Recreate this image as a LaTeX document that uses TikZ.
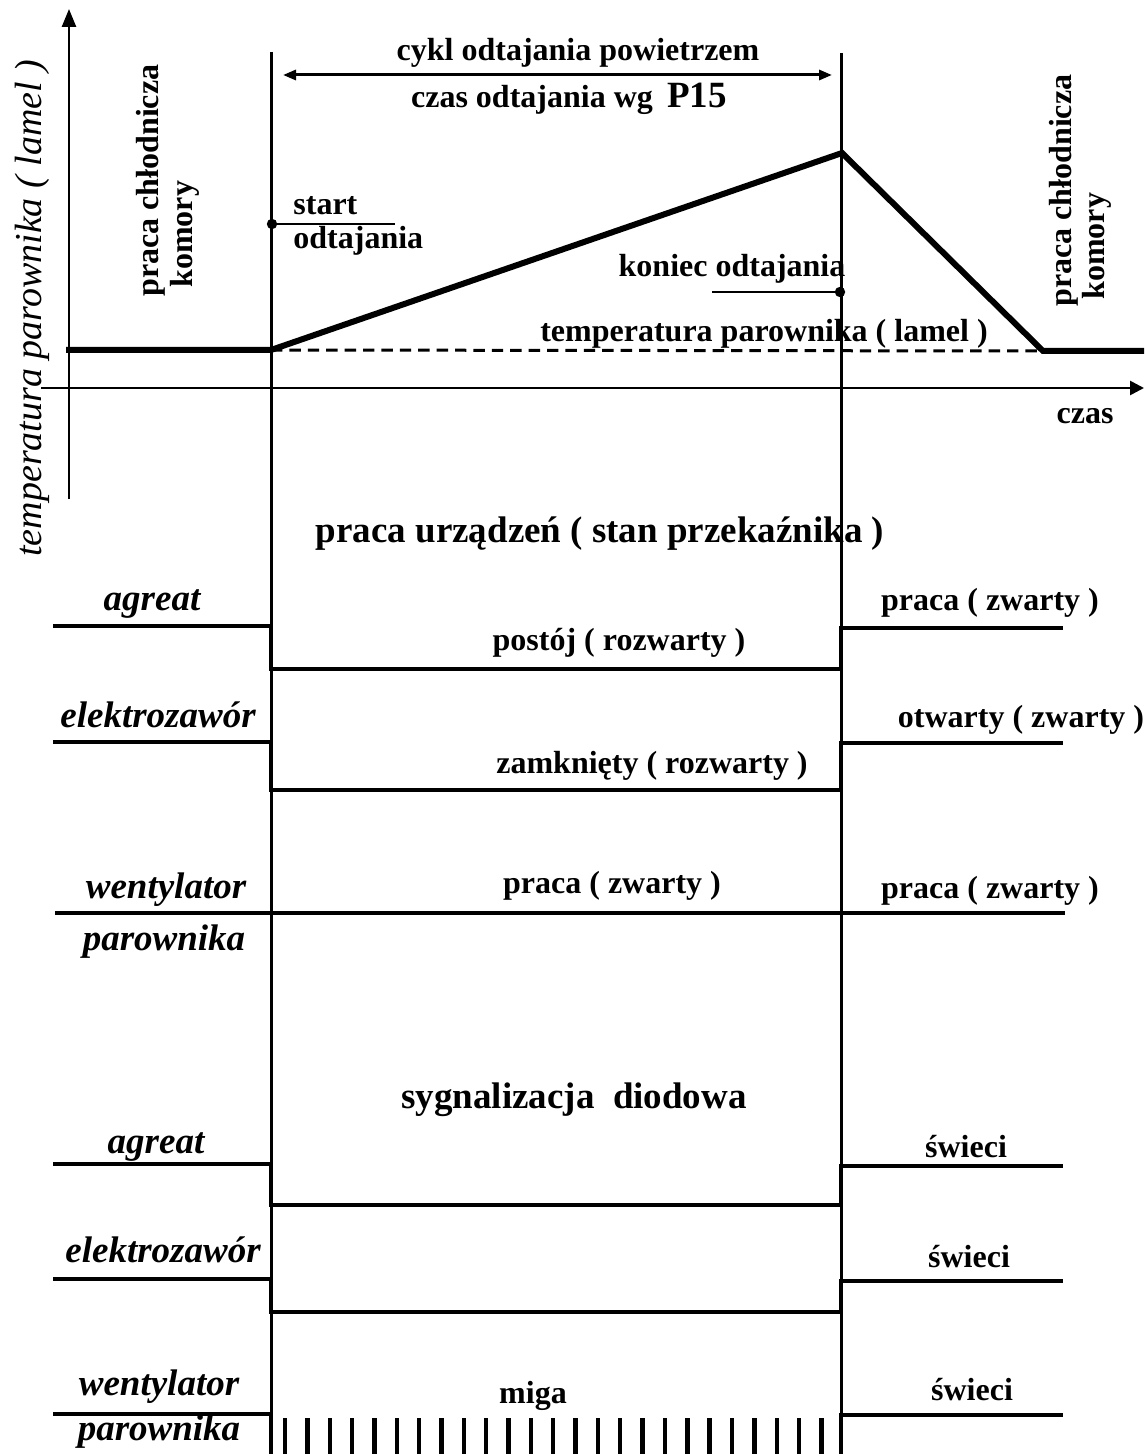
\documentclass[tikz,border=0pt]{standalone}
\usepackage{fontspec}
\setmainfont{Liberation Serif}
\usepackage{tikz}
\usetikzlibrary{arrows.meta,positioning,calc}

\begin{document}
\begin{tikzpicture}[x=0.5pt, y=-0.5pt, line join=miter,
  every node/.style={inner sep=0pt},
  lbl/.style={font=\fontsize{16}{19}\selectfont\bfseries},
  head/.style={font=\fontsize{18.5}{22}\selectfont\bfseries},
  dev/.style={font=\fontsize{18.5}{22}\selectfont\bfseries\itshape},
  axl/.style={font=\fontsize{19}{22}\selectfont\itshape},
  axis/.style={line width=1.3pt},
  thinln/.style={line width=1.5pt},
  sig/.style={line width=2.3pt},
  curve/.style={line width=3pt},
  bar/.style={line width=2.2pt}]
\useasboundingbox (0,0) rectangle (1144,1454);

% osie
\coordinate (y0) at (69,499);
\coordinate (y1) at (69,9);
\coordinate (x0) at (41,388);
\coordinate (x1) at (1144,388);
\draw[axis, -{Triangle[length=9pt,width=7pt]}] (y0) -- (y1);
\draw[axis, -{Triangle[length=7pt,width=7pt]}] (x0) -- (x1);
\node[axl, rotate=90, anchor=base west] (ylab) at (41,557) {temperatura parownika ( lamel )};
\node[lbl, anchor=base] (czasx) at (1085,423) {czas};

% granice cyklu
\coordinate (tA) at (271,52);
\coordinate (tAb) at (271,1454);
\coordinate (tB) at (841,53);
\coordinate (tBb) at (841,1454);
\draw[thinln] (tA) -- (tAb);
\draw[thinln] (tB) -- (tBb);

\coordinate (cycL) at (283,75);
\coordinate (cycR) at (832,75);
\draw[thinln, {Triangle[length=6.5pt,width=5pt]}-{Triangle[length=6.5pt,width=5pt]}] (cycL) -- (cycR);
\node[lbl, anchor=base] (cykl) at (578,61) {cykl odtajania powietrzem};
\node[lbl, anchor=base] (czas) at (569,108) {czas odtajania wg\hspace{0.45em}{\fontsize{18.5}{22}\selectfont P15}};

% przebieg temperatury
\coordinate (T0) at (66,350);
\coordinate (T1) at (271,350);
\coordinate (Tpk) at (842,153);
\coordinate (T2) at (1043,351);
\coordinate (T3) at (1144,351);
\draw[thinln, dash pattern=on 5.7pt off 3.5pt] (T1) -- (T2);
\draw[curve] (T0) -- (T1) -- (Tpk) -- (T2) -- (T3);
\node[lbl, anchor=base] (tpl) at (764,342) {temperatura parownika ( lamel )};

\coordinate (sdot) at (272,224);
\coordinate (send) at (395,224);
\draw[line width=1.2pt] (sdot) -- (send);
\fill (sdot) circle (2.6pt);
\node[lbl, anchor=base west] (start1) at (293,215) {start};
\node[lbl, anchor=base west] (start2) at (293,249) {odtajania};

\coordinate (kdot) at (840,292);
\coordinate (kend) at (712,292);
\draw[line width=1.2pt] (kend) -- (kdot);
\fill (kdot) circle (2.6pt);
\node[lbl, anchor=base] (kon) at (732,277) {koniec odtajania};

\node[lbl, rotate=90, anchor=base west] (pchL) at (158,297) {praca chłodnicza};
\node[lbl, rotate=90, anchor=base west] (komL) at (192,288) {komory};
\node[lbl, rotate=90, anchor=base west] (pchR) at (1071,307) {praca chłodnicza};
\node[lbl, rotate=90, anchor=base west] (komR) at (1104,300) {komory};

% praca urzadzen
\node[head, anchor=base] (hdr1) at (600,542) {praca urządzeń ( stan przekaźnika )};
\node[dev, anchor=base] (ag1) at (152,610) {agreat};
\node[lbl, anchor=base] (pos) at (619,650) {postój ( rozwarty )};
\node[lbl, anchor=base] (pz1) at (990,610) {praca ( zwarty )};
\draw[sig] (53,626) -| (271,669) -- (841,669) |- (1063,628);

\node[dev, anchor=base] (ez1) at (158,727) {elektrozawór};
\node[lbl, anchor=base] (zam) at (652,773) {zamknięty ( rozwarty )};
\node[lbl, anchor=base] (otw) at (1021,727) {otwarty ( zwarty )};
\draw[sig] (53,742) -| (271,790) -- (841,790) |- (1063,743);

\node[dev, anchor=base] (wt1) at (166,898) {wentylator};
\node[dev, anchor=base] (pw1) at (164,950) {parownika};
\node[lbl, anchor=base] (pz2) at (612,893) {praca ( zwarty )};
\node[lbl, anchor=base] (pz3) at (990,898) {praca ( zwarty )};
\draw[sig] (55,913) -- (1065,913);

% sygnalizacja
\node[head, anchor=base] (hdr2) at (574,1108) {sygnalizacja\ \ diodowa};
\node[dev, anchor=base] (ag2) at (156,1153) {agreat};
\node[lbl, anchor=base] (sw1) at (966,1157) {świeci};
\draw[sig] (53,1164) -| (271,1205) -- (841,1205) |- (1063,1166);

\node[dev, anchor=base] (ez2) at (163,1262) {elektrozawór};
\node[lbl, anchor=base] (sw2) at (969,1267) {świeci};
\draw[sig] (53,1279) -| (271,1312) -- (841,1312) |- (1063,1281);

\node[dev, anchor=base] (wt2) at (159,1395) {wentylator};
\node[dev, anchor=base] (pw2) at (159,1440) {parownika};
\node[lbl, anchor=base] (miga) at (533,1403) {miga};
\node[lbl, anchor=base] (sw3) at (972,1400) {świeci};
\draw[sig] (53,1414) -| (271,1454);
\draw[sig] (841,1454) |- (1063,1415);
\foreach \i in {0,...,24}
  \draw[bar] ({285+22.35*\i},1418) -- ++(0,40);
\end{tikzpicture}
\end{document}
